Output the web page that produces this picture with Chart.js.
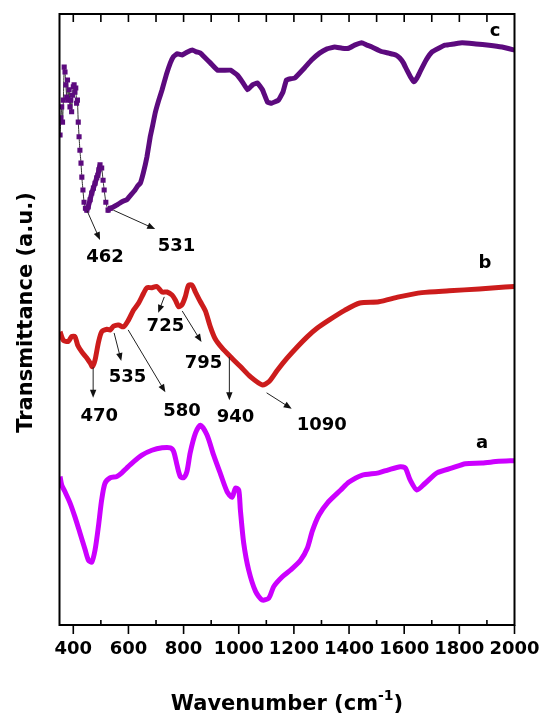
<!DOCTYPE html>
<html>
<head>
<meta charset="utf-8">
<script src="https://cdn.jsdelivr.net/npm/chart.js@4"></script>
<style>
  html, body { margin: 0; padding: 0; background: #fff; }
  #wrap { width: 542px; height: 714px; }
</style>
</head>
<body>
<div id="wrap"><canvas id="chart" width="542" height="714"></canvas></div>
<script>
// ticks of the wavenumber axis (cm-1)
const xTicks = [400, 600, 800, 1000, 1200, 1400, 1600, 1800, 2000];

// curve a (magenta, bottom)
const waveA = [352, 358, 370, 388, 406, 424, 443, 455, 467, 479, 491, 503, 515, 534, 558, 576, 594, 618, 649, 685,
  722, 752, 764, 776, 788, 800, 812, 824, 843, 861, 885, 909, 934, 958, 976, 988, 1000, 1006, 1018, 1036,
  1061, 1085, 1109, 1127, 1158, 1188, 1224, 1249, 1267, 1291, 1322, 1370, 1400, 1446, 1507, 1543, 1586, 1604, 1622, 1646,
  1676, 1719, 1774, 1822, 1882, 1943, 2000];
const transA = [24.3, 22.9, 21.8, 20.0, 17.7, 15.1, 12.3, 10.6, 10.3, 12.3, 16.1, 20.5, 23.2, 24.1, 24.3, 24.9, 25.7, 26.7, 27.8, 28.6,
  29.0, 29.0, 28.4, 26.2, 24.3, 24.1, 25.1, 28.2, 31.4, 32.7, 31.1, 27.8, 24.7, 21.8, 20.9, 22.4, 22.1, 18.8, 13.4, 9.0,
  5.5, 4.1, 4.4, 6.3, 7.9, 9.0, 10.6, 12.6, 15.4, 18.0, 20.0, 22.1, 23.4, 24.5, 24.9, 25.4, 25.9, 25.7, 23.7, 22.1,
  23.2, 24.9, 25.7, 26.4, 26.5, 26.8, 26.9];

// curve b (red, middle)
const waveB = [352, 364, 382, 394, 406, 416, 431, 449, 461, 469, 479, 491, 503, 522, 534, 546, 564, 582, 600, 618,
  637, 655, 667, 685, 703, 722, 740, 758, 770, 782, 794, 806, 818, 831, 843, 861, 879, 897, 915, 940,
  970, 1006, 1043, 1085, 1109, 1140, 1176, 1212, 1249, 1285, 1327, 1384, 1439, 1508, 1581, 1664, 1763, 1872, 1966, 2000];
const transB = [48.0, 46.6, 46.4, 47.2, 47.2, 45.8, 44.7, 43.7, 42.9, 42.3, 43.4, 46.2, 48.0, 48.4, 48.3, 48.9, 49.1, 48.8, 49.9, 51.5,
  52.7, 54.3, 55.2, 55.2, 55.4, 54.5, 54.5, 54.0, 53.2, 52.1, 52.4, 53.7, 55.6, 55.6, 54.5, 52.9, 51.4, 48.8, 46.8, 45.3,
  43.9, 42.3, 40.6, 39.3, 39.8, 41.7, 43.7, 45.5, 47.2, 48.6, 49.9, 51.5, 52.7, 52.9, 53.7, 54.4, 54.7, 55.0, 55.3, 55.4];

// curve c (purple, top) - noisy low-wavenumber end plotted as symbols
const waveC = [352, 355, 358, 361, 364, 367, 370, 373, 376, 379, 382, 385, 388, 391, 394, 397, 400, 403, 406, 409,
  412, 415, 418, 421, 424, 428, 431, 435, 439, 444, 449, 454, 461, 467, 473, 479, 485, 489, 493, 497,
  503, 508, 512, 518, 526, 535, 545, 557, 570, 582, 594, 609, 624, 634, 643, 654, 667, 679, 688, 697,
  710, 722, 737, 752, 763, 777, 795, 814, 832, 847, 861, 879, 897, 923, 946, 970, 995, 1013, 1032, 1050,
  1068, 1086, 1104, 1119, 1144, 1160, 1173, 1188, 1203, 1239, 1265, 1293, 1320, 1348, 1375, 1399, 1420, 1446, 1465, 1483,
  1515, 1544, 1570, 1584, 1597, 1610, 1623, 1635, 1646, 1657, 1680, 1701, 1725, 1748, 1780, 1810, 1860, 1908, 1955, 2000];
const transC = [80.2, 83.0, 84.8, 82.3, 85.9, 91.3, 90.5, 88.4, 86.4, 89.2, 85.9, 87.6, 84.8, 85.9, 84.0, 86.7, 88.1, 88.4, 87.2, 87.9,
  85.4, 85.9, 82.3, 79.9, 77.7, 75.6, 73.3, 71.2, 69.2, 68.2, 67.9, 68.4, 69.6, 70.7, 71.5, 72.3, 73.2, 73.6, 74.5, 75.3,
  74.8, 72.8, 71.2, 69.2, 67.9, 68.2, 68.4, 68.7, 69.1, 69.4, 69.6, 70.4, 71.2, 71.9, 72.3, 74.0, 76.6, 79.9, 81.8, 83.8,
  85.9, 87.6, 90.0, 92.0, 93.0, 93.5, 93.3, 93.8, 94.1, 93.8, 93.6, 92.8, 92.0, 90.8, 90.8, 90.8, 90.0, 88.9, 87.6, 88.4,
  88.7, 87.6, 85.6, 85.4, 85.9, 87.2, 89.2, 89.4, 89.5, 91.2, 92.5, 93.6, 94.3, 94.6, 94.4, 94.4, 94.9, 95.3, 94.9, 94.6,
  93.9, 93.6, 93.3, 92.8, 92.0, 90.8, 89.7, 88.9, 89.5, 90.5, 92.5, 93.8, 94.4, 94.9, 95.1, 95.3, 95.1, 94.9, 94.6, 94.1];

// peak labels with their arrows (wavenumber, transmittance)
const peakText = ['462', '531', '470', '535', '580', '725', '795', '940', '1090'];
const peakTextWave = [515, 774, 494, 597, 794, 734, 872, 988, 1301];
const peakTextT = [60.1, 62.0, 34.2, 40.6, 35.0, 48.9, 42.9, 34.0, 32.7];
const arrowFromWave = [450, 545, 472, 548, 599, 730, 795, 966, 1101];
const arrowFromT = [67.8, 67.9, 42.2, 47.8, 48.3, 53.7, 51.4, 43.9, 38.0];
const arrowToWave = [497, 697, 472, 574, 734, 708, 865, 966, 1192];
const arrowToT = [63.0, 64.8, 37.2, 43.2, 38.1, 51.1, 46.3, 36.8, 35.4];

// curve names
const seriesNames = ['a', 'b', 'c'];
const nameWave = [1882, 1893, 1930];
const nameT = [29.8, 59.2, 97.1];

const FONT = 'DejaVu Sans';
const colA = '#cc00ff';
const colB = '#cc1c1c';
const colC = '#5c0a7e';

function pts(xs, ys) {
  return xs.map((v, i) => ({ x: v, y: ys[i] }));
}

// sparse parts of curve c: thin connecting line between symbols
function thinC(s) {
  const a = s.p0.parsed.x, b = s.p1.parsed.x;
  return a < 444 || (a >= 497 && b <= 526);
}

const decor = {
  id: 'decor',
  afterDatasetsDraw(chart) {
    const { ctx, chartArea: ar, scales: { x, y } } = chart;
    ctx.save();

    // frame
    ctx.strokeStyle = '#000';
    ctx.lineWidth = 2;
    ctx.strokeRect(ar.left, ar.top, ar.right - ar.left, ar.bottom - ar.top);

    // tick marks: top all inward, bottom major outward / minor inward
    ctx.lineWidth = 1.6;
    ctx.beginPath();
    for (let v = 400; v <= 2000; v += 100) {
      const px = x.getPixelForValue(v);
      if (v < 2000) { ctx.moveTo(px, ar.top); ctx.lineTo(px, ar.top + 8); }
      if (v % 200 === 0) { ctx.moveTo(px, ar.bottom); ctx.lineTo(px, ar.bottom + 9); }
      else { ctx.moveTo(px, ar.bottom); ctx.lineTo(px, ar.bottom - 5); }
    }
    ctx.stroke();

    // arrows
    ctx.strokeStyle = '#222';
    ctx.fillStyle = '#111';
    ctx.lineWidth = 1;
    for (let i = 0; i < peakText.length; i++) {
      const x0 = x.getPixelForValue(arrowFromWave[i]), y0 = y.getPixelForValue(arrowFromT[i]);
      const x1 = x.getPixelForValue(arrowToWave[i]), y1 = y.getPixelForValue(arrowToT[i]);
      const ang = Math.atan2(y1 - y0, x1 - x0);
      const L = 8, W = 3.2;
      ctx.beginPath();
      ctx.moveTo(x0, y0);
      ctx.lineTo(x1 - Math.cos(ang) * L * 0.8, y1 - Math.sin(ang) * L * 0.8);
      ctx.stroke();
      ctx.beginPath();
      ctx.moveTo(x1, y1);
      ctx.lineTo(x1 - Math.cos(ang) * L - Math.sin(ang) * W, y1 - Math.sin(ang) * L + Math.cos(ang) * W);
      ctx.lineTo(x1 - Math.cos(ang) * L + Math.sin(ang) * W, y1 - Math.sin(ang) * L - Math.cos(ang) * W);
      ctx.closePath();
      ctx.fill();
    }

    // peak labels and curve names
    ctx.fillStyle = '#000';
    ctx.font = 'bold 18px "' + FONT + '"';
    ctx.textAlign = 'center';
    ctx.textBaseline = 'middle';
    peakText.forEach((t, i) => {
      ctx.fillText(t, x.getPixelForValue(peakTextWave[i]), y.getPixelForValue(peakTextT[i]));
    });
    seriesNames.forEach((t, i) => {
      ctx.fillText(t, x.getPixelForValue(nameWave[i]), y.getPixelForValue(nameT[i]));
    });

    // axis titles
    ctx.textBaseline = 'alphabetic';
    ctx.save();
    ctx.translate(32, 312.5);
    ctx.rotate(-Math.PI / 2);
    ctx.font = 'bold 21px "' + FONT + '"';
    ctx.fillText('Transmittance (a.u.)', 0, 0);
    ctx.restore();

    const main = 'bold 21px "' + FONT + '"', sup = 'bold 14px "' + FONT + '"';
    ctx.textAlign = 'left';
    ctx.font = main;
    const w1 = ctx.measureText('Wavenumber (cm').width;
    const w3 = ctx.measureText(')').width;
    ctx.font = sup;
    const w2 = ctx.measureText('-1').width;
    let tx = (ar.left + ar.right) / 2 - (w1 + w2 + w3) / 2;
    const ty = 710;
    ctx.font = main;
    ctx.fillText('Wavenumber (cm', tx, ty);
    ctx.font = sup;
    ctx.fillText('-1', tx + w1, ty - 10);
    ctx.font = main;
    ctx.fillText(')', tx + w1 + w2, ty);
    ctx.restore();
  }
};

Chart.defaults.font.family = FONT;

new Chart(document.getElementById('chart'), {
  type: 'line',
  data: {
    datasets: [
      { label: 'a', data: pts(waveA, transA), borderColor: colA, borderWidth: 5, pointRadius: 0, tension: 0.25 },
      { label: 'b', data: pts(waveB, transB), borderColor: colB, borderWidth: 5, pointRadius: 0, tension: 0.25 },
      {
        label: 'c', data: pts(waveC, transC), borderColor: colC, backgroundColor: colC, borderWidth: 5,
        pointStyle: 'rect', pointBorderWidth: 0,
        pointRadius: (c) => (c.raw && c.raw.x < 540 ? 3.6 : 0),
        tension: 0.1,
        segment: {
          borderWidth: (s) => (thinC(s) ? 1 : 5),
          borderColor: (s) => (thinC(s) ? '#333' : colC)
        }
      }
    ]
  },
  options: {
    responsive: false,
    animation: false,
    devicePixelRatio: 1,
    layout: { padding: { top: 14, right: 27.5, left: 0, bottom: 0 } },
    plugins: { legend: { display: false }, tooltip: { enabled: false } },
    scales: {
      x: {
        type: 'linear', min: 350, max: 2000,
        afterBuildTicks: (s) => { s.ticks = xTicks.map((v) => ({ value: v })); },
        afterFit: (s) => { s.height = 89; s.paddingLeft = 0; s.paddingRight = 0; },
        grid: { display: false, drawTicks: false },
        border: { display: false },
        ticks: {
          color: '#000', padding: 14, maxRotation: 0, autoSkip: false,
          font: { family: FONT, size: 18, weight: 'bold' },
          callback: (v) => String(v)
        }
      },
      y: {
        type: 'linear', min: 0, max: 100,
        afterFit: (s) => { s.width = 59.5; },
        ticks: { display: false },
        grid: { display: false, drawTicks: false },
        border: { display: false }
      }
    }
  },
  plugins: [decor]
});
</script>
</body>
</html>
